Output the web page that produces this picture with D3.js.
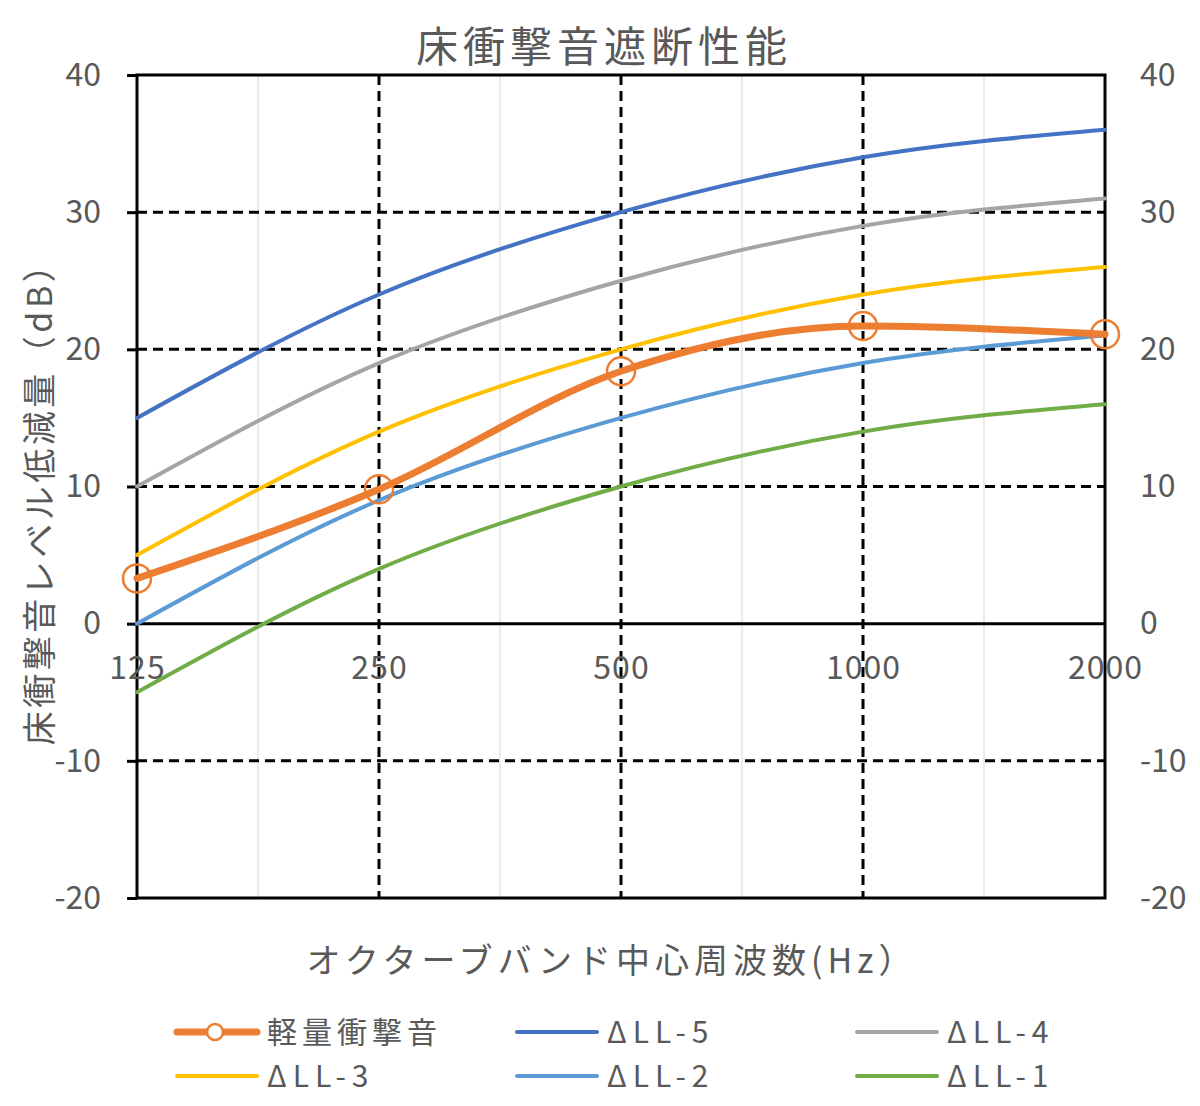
<!DOCTYPE html>
<html>
<head>
<meta charset="utf-8">
<script src="https://cdnjs.cloudflare.com/ajax/libs/d3/7.8.5/d3.min.js"></script>
<style>
  body { margin: 0; background: #fff; }
  text { font-family: "Noto Sans CJK JP", "Noto Sans", sans-serif; fill: #595959; }
</style>
</head>
<body>
<script>
// data
var freqs = [125, 250, 500, 1000, 2000];
var yTicks = [-20, -10, 0, 10, 20, 30, 40];
var minorFreqs = [176.8, 353.6, 707.1, 1414.2];

var lightImpact = [3.3, 9.8, 18.4, 21.7, 21.1];
var dLL5 = [15, 24, 30, 34, 36];
var dLL4 = [10, 19, 25, 29, 31];
var dLL3 = [5, 14, 20, 24, 26];
var dLL2 = [0, 9, 15, 19, 21];
var dLL1 = [-5, 4, 10, 14, 16];

var seriesNames = ["軽量衝撃音", "ΔLL-5", "ΔLL-4", "ΔLL-3", "ΔLL-2", "ΔLL-1"];
var seriesValues = [lightImpact, dLL5, dLL4, dLL3, dLL2, dLL1];
var colors = ["#ED7D31", "#4472C4", "#A5A5A5", "#FFC000", "#5B9BD5", "#70AD47"];

var W = 1200, H = 1106;
var pLeft = 137, pRight = 1105, pTop = 75, pBottom = 898;

var svg = d3.select("body").append("svg")
    .attr("width", W).attr("height", H);

var x = d3.scaleLog().base(2).domain([125, 2000]).range([pLeft, pRight]);
var y = d3.scaleLinear().domain([-20, 40]).range([pBottom, pTop]);
var numFmt = d => String(d);   // plain hyphen minus like the original

// minor vertical gridlines
svg.selectAll(".minor").data(minorFreqs).enter().append("line")
    .attr("x1", d => x(d)).attr("x2", d => x(d))
    .attr("y1", pTop).attr("y2", pBottom)
    .attr("stroke", "#ebebeb").attr("stroke-width", 2);

// dashed major gridlines
svg.selectAll(".hgrid").data(yTicks.filter(d => d != 0 && d != -20 && d != 40)).enter().append("line")
    .attr("x1", pLeft).attr("x2", pRight)
    .attr("y1", d => y(d)).attr("y2", d => y(d))
    .attr("stroke", "#000").attr("stroke-width", 3).attr("stroke-dasharray", "10,6");

svg.selectAll(".vgrid").data(freqs.slice(1, -1)).enter().append("line")
    .attr("x1", d => x(d)).attr("x2", d => x(d))
    .attr("y1", pTop).attr("y2", pBottom)
    .attr("stroke", "#000").attr("stroke-width", 3).attr("stroke-dasharray", "10,6");

// plot frame
svg.append("rect")
    .attr("x", pLeft).attr("y", pTop)
    .attr("width", pRight - pLeft).attr("height", pBottom - pTop)
    .attr("fill", "none").attr("stroke", "#000").attr("stroke-width", 3);

// left axis with outward ticks
var yAxisL = svg.append("g").attr("transform", "translate(" + pLeft + ",0)")
    .call(d3.axisLeft(y).tickValues(yTicks).tickFormat(numFmt).tickSize(10).tickPadding(26));
yAxisL.select(".domain").remove();
yAxisL.selectAll("line").attr("stroke", "#000").attr("stroke-width", 3);
yAxisL.selectAll("text").style("font-size", "32px").attr("fill", "#595959")
    .attr("font-family", null);

var yAxisR = svg.append("g").attr("transform", "translate(" + pRight + ",0)")
    .call(d3.axisRight(y).tickValues(yTicks).tickFormat(numFmt).tickSize(0).tickPadding(35));
yAxisR.select(".domain").remove();
yAxisR.selectAll("text").style("font-size", "32px").attr("fill", "#595959")
    .attr("font-family", null);

// zero line as x axis
svg.append("line")
    .attr("x1", pLeft).attr("x2", pRight)
    .attr("y1", y(0)).attr("y2", y(0))
    .attr("stroke", "#000").attr("stroke-width", 3);

var xAxis = svg.append("g").attr("transform", "translate(0," + y(0) + ")")
    .call(d3.axisBottom(x).tickValues(freqs).tickFormat(numFmt).tickSize(0).tickPadding(33));
xAxis.select(".domain").remove();
xAxis.selectAll("text").style("font-size", "32px").style("letter-spacing", "1px")
    .attr("fill", "#595959").attr("font-family", null);

// lines
var line = d3.line()
    .x((d, i) => x(freqs[i]))
    .y(d => y(d))
    .curve(d3.curveMonotoneX);

for (var s = seriesValues.length - 1; s >= 0; s--) {
    svg.append("path")
        .datum(seriesValues[s])
        .attr("d", line)
        .attr("fill", "none")
        .attr("stroke", colors[s])
        .attr("stroke-width", s == 0 ? 7 : 4)
        .attr("stroke-linecap", "round");
}

svg.selectAll(".marker").data(lightImpact).enter().append("circle")
    .attr("cx", (d, i) => x(freqs[i])).attr("cy", d => y(d))
    .attr("r", 14)
    .attr("fill", "none").attr("stroke", colors[0]).attr("stroke-width", 2.5);

// title and axis labels
svg.append("text").attr("x", 604).attr("y", 62)
    .attr("text-anchor", "middle").style("font-size", "42px").style("letter-spacing", "5px")
    .text("床衝撃音遮断性能");

svg.append("text").attr("x", 612).attr("y", 973)
    .attr("text-anchor", "middle").style("font-size", "34px").style("letter-spacing", "5px")
    .text("オクターブバンド中心周波数(Hz）");

svg.append("text")
    .attr("transform", "translate(52,495) rotate(-90)")
    .attr("text-anchor", "middle").style("font-size", "34px").style("letter-spacing", "3.5px")
    .text("床衝撃音レベル低減量（dB）");

// legend
var legendX = [177, 517, 857];
var legendY = [1032, 1076];
seriesNames.forEach(function (name, i) {
    var lx = legendX[i % 3], ly = legendY[Math.floor(i / 3)];
    var g = svg.append("g");
    g.append("line")
        .attr("x1", lx).attr("x2", lx + 80)
        .attr("y1", ly).attr("y2", ly)
        .attr("stroke", colors[i]).attr("stroke-width", i == 0 ? 7 : 4)
        .attr("stroke-linecap", "round");
    if (i == 0) {
        g.append("circle").attr("cx", lx + 38).attr("cy", ly).attr("r", 8)
            .attr("fill", "#fff").attr("stroke", colors[0]).attr("stroke-width", 2.5);
    }
    g.append("text").attr("x", lx + 90).attr("y", ly).attr("dy", "0.35em")
        .style("font-size", "30px").style("letter-spacing", i == 0 ? "5px" : "6px")
        .text(name);
});
</script>
</body>
</html>
